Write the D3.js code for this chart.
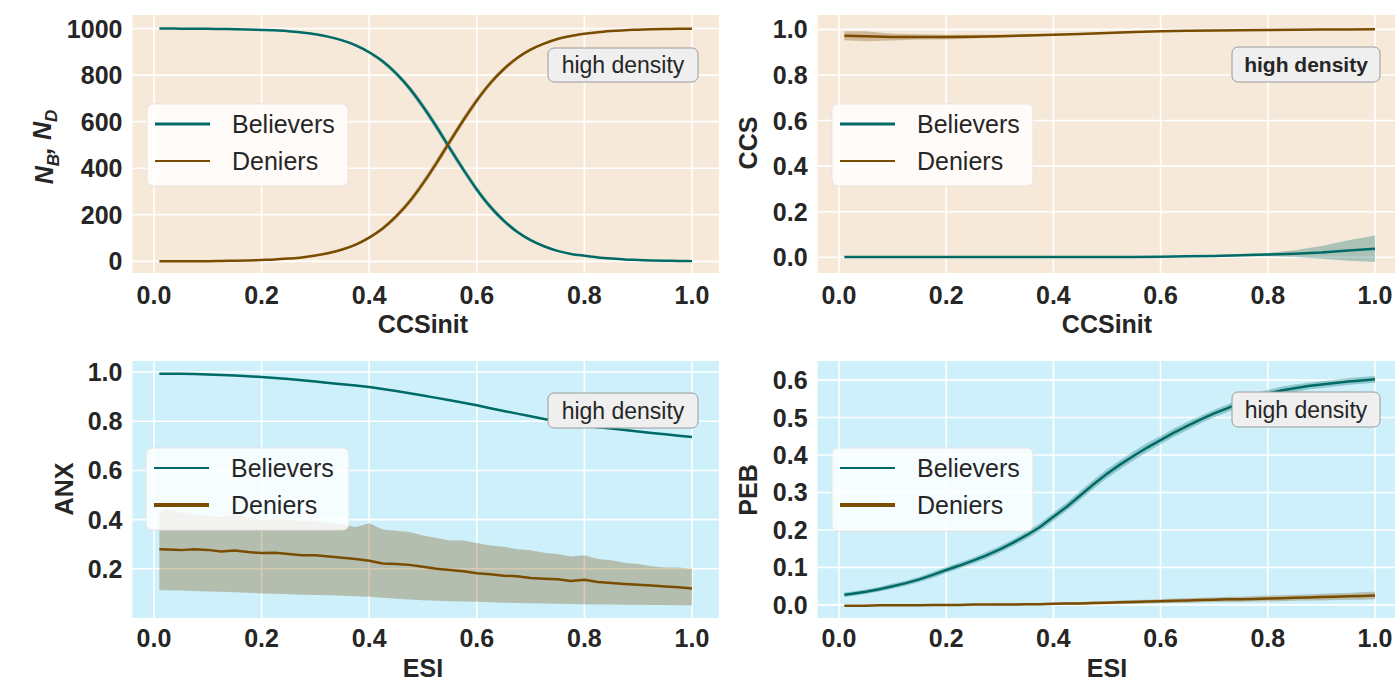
<!DOCTYPE html>
<html><head><meta charset="utf-8">
<script src="https://cdn.jsdelivr.net/npm/d3@7"></script>
<style>
body{margin:0;background:#fff}
svg{display:block}
text{font-family:'Liberation Sans',Arial,sans-serif;fill:#262626}
</style>
</head><body>
<svg id="c" width="1395" height="679"></svg>
<script>
// ---------- DATA ----------
const ccsX = [0.01,0.05,0.10,0.15,0.20,0.25,0.30,0.35,0.40,0.45,0.50,0.55,0.60,0.65,0.70,0.75,0.80,0.85,0.90,0.95,1.00];
const ccsXFine = [0.01,0.025,0.05,0.075,0.10,0.125,0.15,0.175,0.20,0.225,0.25,0.275,0.30,0.325,0.35,0.375,0.40,0.425,0.45,0.475,0.50,0.525,0.55,0.575,0.60,0.625,0.65,0.675,0.70,0.725,0.75,0.775,0.80,0.825,0.85,0.875,0.90,0.925,0.95,0.975,1.00];
const esiX = [0.01,0.025,0.05,0.075,0.10,0.125,0.15,0.175,0.20,0.225,0.25,0.275,0.30,0.325,0.35,0.375,0.40,0.425,0.45,0.475,0.50,0.525,0.55,0.575,0.60,0.625,0.65,0.675,0.70,0.725,0.75,0.775,0.80,0.825,0.85,0.875,0.90,0.925,0.95,0.975,1.00];

// Panel 1: N_B, N_D vs CCSinit
const nBelievers = [1000,1000,999,999,999,998,997,996,994,992,988,983,975,964,949,928,898,859,807,743,665,578,485,394,309,235,175,127,91,65,45,32,24,17,12,8,6,4,3,2,1];
const nDeniers = [0,0,1,1,1,2,3,4,6,8,12,17,25,36,51,72,102,141,193,257,335,422,515,606,691,765,825,873,909,935,955,968,977,984,989,993,995,997,998,999,999];
const nSd = [0,0,0,0,0,1,1,1,1,2,2,3,3,4,5,6,7,9,11,13,15,16,16,15,14,12,10,8,7,5,4,3,3,2,2,1,1,1,1,1,1];

// Panel 2: CCS vs CCSinit
const ccsBelievers = [0.001,0.001,0.001,0.001,0.001,0.001,0.001,0.001,0.001,0.001,0.001,0.001,0.002,0.004,0.006,0.009,0.012,0.016,0.021,0.030,0.037];
const ccsBelieversSd = [0.001,0.001,0.001,0.001,0.001,0.001,0.001,0.001,0.001,0.001,0.001,0.002,0.002,0.003,0.004,0.005,0.007,0.015,0.028,0.045,0.058];
const ccsDeniers = [0.972,0.970,0.966,0.967,0.966,0.968,0.970,0.973,0.976,0.980,0.984,0.988,0.992,0.994,0.995,0.996,0.997,0.998,0.999,0.999,1.000];
const ccsDeniersSd = [0.020,0.022,0.015,0.012,0.010,0.008,0.006,0.005,0.004,0.004,0.003,0.003,0.003,0.002,0.002,0.002,0.001,0.001,0.001,0.001,0.001];

// Panel 3: ANX vs ESI
const anxBelievers = [0.993,0.993,0.993,0.992,0.990,0.988,0.986,0.983,0.980,0.976,0.972,0.967,0.962,0.956,0.950,0.945,0.939,0.931,0.923,0.914,0.905,0.895,0.885,0.875,0.865,0.853,0.842,0.831,0.820,0.809,0.800,0.791,0.783,0.776,0.770,0.764,0.758,0.752,0.747,0.741,0.736];
const anxDeniers = [0.280,0.279,0.276,0.280,0.277,0.270,0.274,0.268,0.264,0.265,0.260,0.255,0.255,0.250,0.245,0.240,0.233,0.222,0.220,0.216,0.208,0.200,0.195,0.190,0.182,0.178,0.172,0.170,0.163,0.160,0.158,0.150,0.155,0.146,0.142,0.138,0.135,0.132,0.128,0.125,0.120];
const anxDeniersHi = [0.43,0.44,0.43,0.42,0.415,0.41,0.42,0.41,0.40,0.405,0.40,0.395,0.395,0.385,0.38,0.37,0.385,0.36,0.355,0.35,0.335,0.325,0.315,0.315,0.305,0.295,0.29,0.28,0.275,0.265,0.26,0.25,0.255,0.24,0.235,0.225,0.22,0.21,0.205,0.205,0.20];
const anxDeniersLo = [0.113,0.113,0.112,0.110,0.108,0.107,0.105,0.103,0.100,0.099,0.097,0.095,0.094,0.092,0.090,0.088,0.086,0.082,0.078,0.075,0.072,0.070,0.068,0.067,0.066,0.064,0.062,0.061,0.060,0.059,0.058,0.057,0.056,0.055,0.055,0.054,0.054,0.053,0.053,0.052,0.052];

// Panel 4: PEB vs ESI
const pebBelievers = [0.027,0.030,0.035,0.042,0.050,0.058,0.068,0.080,0.093,0.105,0.118,0.132,0.148,0.166,0.186,0.208,0.235,0.262,0.292,0.322,0.350,0.375,0.398,0.420,0.440,0.460,0.478,0.495,0.511,0.525,0.540,0.553,0.564,0.572,0.578,0.584,0.588,0.592,0.596,0.599,0.602];
const pebBelieversSd = [0.006,0.006,0.006,0.006,0.007,0.007,0.007,0.008,0.008,0.008,0.008,0.009,0.009,0.009,0.010,0.010,0.011,0.011,0.012,0.012,0.012,0.012,0.012,0.012,0.011,0.011,0.011,0.010,0.010,0.010,0.010,0.010,0.010,0.010,0.010,0.009,0.009,0.009,0.009,0.009,0.009];
const pebDeniers = [-0.002,-0.002,-0.002,-0.001,-0.001,-0.001,-0.001,0.000,0.000,0.000,0.001,0.001,0.001,0.001,0.002,0.002,0.003,0.004,0.004,0.005,0.006,0.007,0.008,0.009,0.010,0.011,0.012,0.013,0.014,0.015,0.015,0.016,0.017,0.018,0.019,0.020,0.021,0.022,0.023,0.024,0.025];
const pebDeniersSd = [0.001,0.001,0.001,0.001,0.001,0.001,0.002,0.002,0.002,0.002,0.002,0.002,0.003,0.003,0.003,0.003,0.003,0.004,0.004,0.004,0.004,0.005,0.005,0.005,0.005,0.006,0.006,0.006,0.006,0.007,0.007,0.007,0.008,0.008,0.008,0.008,0.009,0.009,0.009,0.010,0.010];

const xTicks = [0,0.2,0.4,0.6,0.8,1.0];
const seriesNames = ["Believers","Deniers"];
const annotation = "high density";

// ---------- STYLE ----------
const cBel = "#006b66", cDen = "#7a4c00";
const svg = d3.select("#c");

function zip(xs, ys, lo, hi) {
  return xs.map((x,i)=>({x, y:ys[i], lo:lo[i], hi:hi[i]}));
}
function sym(ys, sd){ return [ys.map((v,i)=>v-sd[i]), ys.map((v,i)=>v+sd[i])]; }

const panels = [
  { x0:154, x1:692, yDom:[-50,1058], yRng:[273,15], bg:"#f7e9da",
    yTicks:[0,200,400,600,800,1000], fmt:d3.format("d"),
    xLabel:"CCSinit", xTickY:304, xLabelY:333, yLabelX:44, yLabelY:147, yLabel:"N",
    legend:{x:147,y:104,w:201,h:82}, legW:[3,2],
    box:{x:548,y:48,w:150,h:34,bold:false},
    series:[
      {xs:ccsXFine, ys:nBelievers, band:sym(nBelievers,nSd), color:cBel, curve:d3.curveMonotoneX},
      {xs:ccsXFine, ys:nDeniers, band:sym(nDeniers,nSd), color:cDen, curve:d3.curveMonotoneX}
    ]},
  { x0:839, x1:1375, yDom:[-0.069,1.063], yRng:[273,15], bg:"#f7e9da",
    yTicks:[0,0.2,0.4,0.6,0.8,1.0], fmt:d3.format(".1f"),
    xLabel:"CCSinit", xTickY:304, xLabelY:333, yLabelX:748, yLabelY:143, yLabel:"CCS",
    legend:{x:832,y:104,w:201,h:82}, legW:[3,2],
    box:{x:1232,y:47,w:148,h:35,bold:true},
    series:[
      {xs:ccsX, ys:ccsBelievers, band:sym(ccsBelievers,ccsBelieversSd), color:cBel, curve:d3.curveLinear},
      {xs:ccsX, ys:ccsDeniers, band:sym(ccsDeniers,ccsDeniersSd), color:cDen, curve:d3.curveLinear}
    ]},
  { x0:154, x1:692, yDom:[0.0,1.045], yRng:[618,361], bg:"#cdf0fb",
    yTicks:[0.2,0.4,0.6,0.8,1.0], fmt:d3.format(".1f"),
    xLabel:"ESI", xTickY:647, xLabelY:677, yLabelX:64, yLabelY:489, yLabel:"ANX",
    legend:{x:146,y:448,w:203,h:82}, legW:[2,4],
    box:{x:548,y:393,w:150,h:35,bold:false},
    series:[
      {xs:esiX, ys:anxBelievers, band:[anxBelievers.map(v=>v-0.003), anxBelievers.map(v=>v+0.003)], color:cBel, curve:d3.curveLinear},
      {xs:esiX, ys:anxDeniers, band:[anxDeniersLo, anxDeniersHi], color:cDen, curve:d3.curveLinear}
    ]},
  { x0:839, x1:1375, yDom:[-0.035,0.651], yRng:[618,361], bg:"#cdf0fb",
    yTicks:[0,0.1,0.2,0.3,0.4,0.5,0.6], fmt:d3.format(".1f"),
    xLabel:"ESI", xTickY:647, xLabelY:677, yLabelX:748, yLabelY:490, yLabel:"PEB",
    legend:{x:832,y:448,w:201,h:83}, legW:[2,4],
    box:{x:1232,y:392,w:148,h:35,bold:false},
    series:[
      {xs:esiX, ys:pebBelievers, band:sym(pebBelievers,pebBelieversSd), color:cBel, curve:d3.curveLinear},
      {xs:esiX, ys:pebDeniers, band:sym(pebDeniers,pebDeniersSd), color:cDen, curve:d3.curveLinear}
    ]}
];

panels.forEach((p, pi) => {
  const x = d3.scaleLinear().domain([0,1]).range([p.x0, p.x1]);
  const y = d3.scaleLinear().domain(p.yDom).range(p.yRng);
  const L = x(-0.04), R = x(1.05), T = p.yRng[1], B = p.yRng[0];
  const g = svg.append("g");
  g.append("rect").attr("x",L).attr("y",T).attr("width",R-L).attr("height",B-T).attr("fill",p.bg);
  // grid
  g.selectAll(null).data(xTicks).enter().append("line")
    .attr("x1",d=>x(d)).attr("x2",d=>x(d)).attr("y1",T).attr("y2",B)
    .attr("stroke","#fff").attr("stroke-width",1.6);
  g.selectAll(null).data(p.yTicks).enter().append("line")
    .attr("x1",L).attr("x2",R).attr("y1",d=>y(d)).attr("y2",d=>y(d))
    .attr("stroke","#fff").attr("stroke-width",1.6);
  // tick labels
  g.selectAll(null).data(xTicks).enter().append("text")
    .attr("x",d=>x(d)).attr("y",p.xTickY).attr("text-anchor","middle")
    .attr("font-size",25).attr("font-weight","bold").text(d=>d3.format(".1f")(d));
  g.selectAll(null).data(p.yTicks).enter().append("text")
    .attr("x",L-10).attr("y",d=>y(d)).attr("dy","0.36em").attr("text-anchor","end")
    .attr("font-size",25).attr("font-weight","bold").text(d=>p.fmt(d));
  // axis labels
  g.append("text").attr("x",(p.x0+p.x1)/2).attr("y",p.xLabelY).attr("text-anchor","middle")
    .attr("font-size",25).attr("font-weight","bold").text(p.xLabel);
  const yl = g.append("text").attr("transform",`translate(${p.yLabelX},${p.yLabelY}) rotate(-90)`)
    .attr("text-anchor","middle").attr("dy","0.36em")
    .attr("font-size",25).attr("font-weight","bold");
  if (pi === 0) {
    yl.attr("font-style","italic");
    yl.append("tspan").text("N");
    yl.append("tspan").attr("font-size",17).attr("dy","0.35em").text("B");
    yl.append("tspan").attr("dy","-0.3em").text(", N");
    yl.append("tspan").attr("font-size",17).attr("dy","0.35em").text("D");
  } else {
    yl.text(p.yLabel);
  }
  // clip
  const cid = "clip"+pi;
  svg.append("clipPath").attr("id",cid).append("rect").attr("x",L).attr("y",T).attr("width",R-L).attr("height",B-T);
  const d = g.append("g").attr("clip-path",`url(#${cid})`);
  p.series.forEach(s => {
    const pts = zip(s.xs, s.ys, s.band[0], s.band[1]);
    d.append("path").datum(pts)
      .attr("d", d3.area().x(q=>x(q.x)).y0(q=>y(q.lo)).y1(q=>y(q.hi)).curve(s.curve))
      .attr("fill", s.color).attr("fill-opacity", 0.3).attr("stroke","none");
  });
  p.series.forEach(s => {
    const pts = zip(s.xs, s.ys, s.band[0], s.band[1]);
    d.append("path").datum(pts)
      .attr("d", d3.line().x(q=>x(q.x)).y(q=>y(q.y)).curve(s.curve))
      .attr("fill","none").attr("stroke", s.color).attr("stroke-width", 2.5);
  });
  // legend
  const lg = p.legend;
  g.append("rect").attr("x",lg.x).attr("y",lg.y).attr("width",lg.w).attr("height",lg.h)
    .attr("rx",6).attr("fill","#ffffff").attr("fill-opacity",0.82)
    .attr("stroke","#e6e0da").attr("stroke-opacity",0.8);
  seriesNames.forEach((nm, i) => {
    const ly = lg.y + 20 + i*37;
    g.append("line").attr("x1",lg.x+8).attr("x2",lg.x+63).attr("y1",ly).attr("y2",ly)
      .attr("stroke", i===0?cBel:cDen).attr("stroke-width", p.legW[i]);
    g.append("text").attr("x",lg.x+85).attr("y",ly).attr("dy","0.36em")
      .attr("font-size",25).text(nm);
  });
  // annotation box
  const b = p.box;
  g.append("rect").attr("x",b.x).attr("y",b.y).attr("width",b.w).attr("height",b.h)
    .attr("rx",6).attr("fill","#efefef").attr("stroke","#9a9a9a").attr("stroke-width",1);
  g.append("text").attr("x",b.x+b.w/2).attr("y",b.y+b.h/2).attr("dy","0.36em")
    .attr("text-anchor","middle").attr("font-size",b.bold?21:23)
    .attr("font-weight",b.bold?"bold":"normal").text(annotation);
});
</script>
</body></html>
